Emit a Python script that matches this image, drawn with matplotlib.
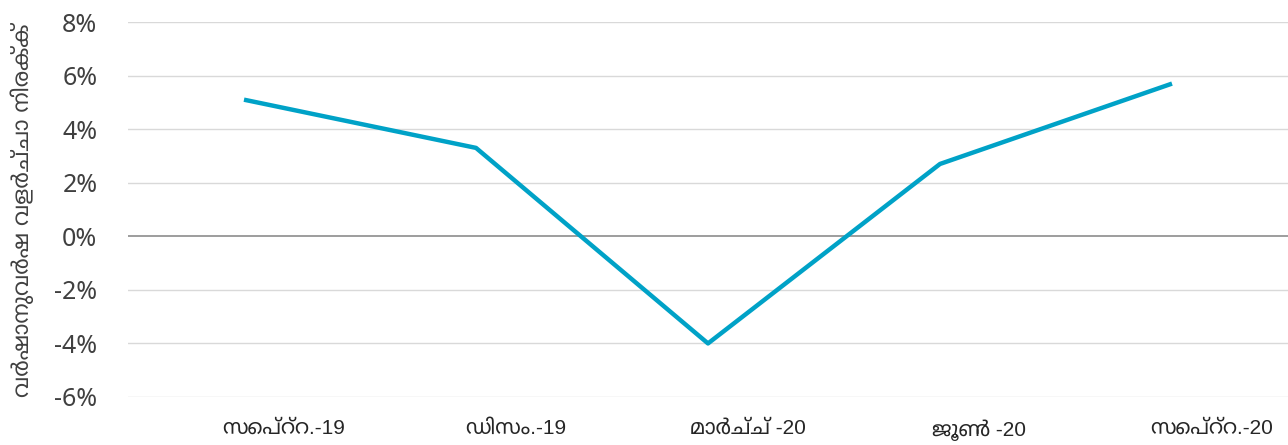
import matplotlib.pyplot as plt
import matplotlib.ticker as mtick

plt.rcParams['font.family'] = ['Noto Sans', 'Noto Sans Malayalam', 'DejaVu Sans']

# data
quarters = ['സെപ്റ്റ.-19', 'ഡിസം.-19', 'മാർച്ച് -20', 'ജൂൺ -20', 'സെപ്റ്റ.-20']
growth = [5.1, 3.3, -4.0, 2.7, 5.7]
y_ticks = [-6, -4, -2, 0, 2, 4, 6, 8]
y_label = 'വർഷാനുവർഷ വളർച്ചാ നിരക്ക്'

fig = plt.figure(figsize=(12.88, 4.45), dpi=100)
ax = fig.add_axes([128 / 1288, 1 - 397 / 445, 1 - 128 / 1288, (397 - 22) / 445])

x = list(range(len(quarters)))
ax.plot(x, growth, color='#00a2c7', linewidth=3.2, solid_capstyle='butt', zorder=3)

ax.set_xlim(-0.5, len(quarters) - 0.5)
ax.set_ylim(-6, 8)
ax.set_yticks(y_ticks)
ax.yaxis.set_major_formatter(mtick.FuncFormatter(lambda v, p: f'{v:.0f}%'))

for v in y_ticks:
    if v == 0:
        ax.axhline(v, color='#8c8c8c', linewidth=1.2, zorder=2)
    else:
        ax.axhline(v, color='#d9d9d9', linewidth=1.0, zorder=1)

# labels sit a little right of each point, as in the original
ax.set_xticks([i + 0.17 for i in x])
ax.set_xticklabels(quarters, fontsize=15, color='#262626',
                   family=['Liberation Sans', 'Noto Sans Malayalam', 'DejaVu Sans'])

ax.tick_params(axis='both', length=0)
ax.tick_params(axis='y', labelsize=18, labelcolor='#404040', pad=22)
ax.tick_params(axis='x', pad=16)
for s in ax.spines.values():
    s.set_visible(False)

fig.text(22 / 1288, 1 - 210 / 445, y_label, rotation=90, fontsize=16,
         color='#404040', ha='center', va='center',
         family=['Noto Sans Malayalam', 'DejaVu Sans'])

fig.savefig('out.png', dpi=100)
